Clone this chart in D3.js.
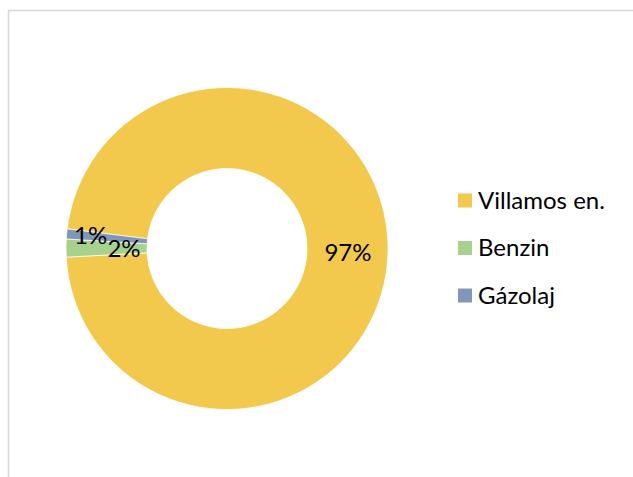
<!DOCTYPE html>
<html>
    <head>
        <meta charset="utf-8">
        <style>
            body { margin: 0; background: #fff; }
        </style>
    </head>
    <body>
        <script src="https://d3js.org/d3.v7.min.js"></script>
        <div id="my_dataviz"></div>

        <script>

            // data
            var categories = ["Villamos en.", "Benzin", "Gázolaj"];
            var values = [97.2, 1.8, 1.0];
            var labels = ["97%", "2%", "1%"];
            var colors = ["#F2C84D", "#A9D18E", "#8197B7"];

            var width = 633, height = 477;
            var cx = 227, cy = 248.5;
            var outerR = 161, innerR = 80;

            var svg = d3.select("#my_dataviz")
                .append("svg")
                    .attr("width", width)
                    .attr("height", height)
                    .style("font-family", "Lato, 'Open Sans', sans-serif");

            // chart border
            svg.append("rect")
                .attr("x", 8.5).attr("y", 10.5)
                .attr("width", width).attr("height", height)
                .attr("fill", "none")
                .attr("stroke", "#d9d9d9")
                .attr("stroke-width", 1.5);

            var data = categories.map(function(c, i) {
                return {name: c, value: values[i], label: labels[i], color: colors[i]};
            });

            var deg = Math.PI / 180;
            var pie = d3.pie()
                .sort(null)
                .value(function(d) { return d.value; })
                .startAngle(-83 * deg)
                .endAngle(277 * deg);

            var arc = d3.arc().innerRadius(innerR).outerRadius(outerR);

            var g = svg.append("g")
                .attr("transform", "translate(" + cx + "," + cy + ")");

            var arcs = pie(data);

            g.selectAll("path")
                .data(arcs)
                .enter()
                .append("path")
                .attr("d", arc)
                .attr("fill", function(d) { return d.data.color; })
                .attr("stroke", "#fff")
                .attr("stroke-width", 0.75);

            // label radius per slice (small slices are pushed apart like Excel does)
            var labelR = [121, 103, 137];
            g.selectAll("text.lbl")
                .data(arcs)
                .enter()
                .append("text")
                .attr("class", "lbl")
                .attr("transform", function(d, i) {
                    var a = (d.startAngle + d.endAngle) / 2;
                    var r = labelR[i];
                    return "translate(" + (r * Math.sin(a)) + "," + (-r * Math.cos(a)) + ")";
                })
                .attr("text-anchor", "middle")
                .attr("dy", "0.35em")
                .style("font-size", "24px")
                .attr("fill", "#000")
                .text(function(d) { return d.data.label; });

            // legend
            var legend = svg.append("g")
                .attr("transform", "translate(458,200.5)");

            var row = legend.selectAll("g")
                .data(data)
                .enter()
                .append("g")
                .attr("transform", function(d, i) { return "translate(0," + (i * 47.5) + ")"; });

            row.append("rect")
                .attr("x", 0).attr("y", -7)
                .attr("width", 14).attr("height", 14)
                .attr("fill", function(d) { return d.color; });

            row.append("text")
                .attr("x", 20)
                .attr("dy", "0.35em")
                .style("font-size", "24px")
                .attr("fill", "#000")
                .text(function(d) { return d.name; });
        </script>
    </body>
</html>
